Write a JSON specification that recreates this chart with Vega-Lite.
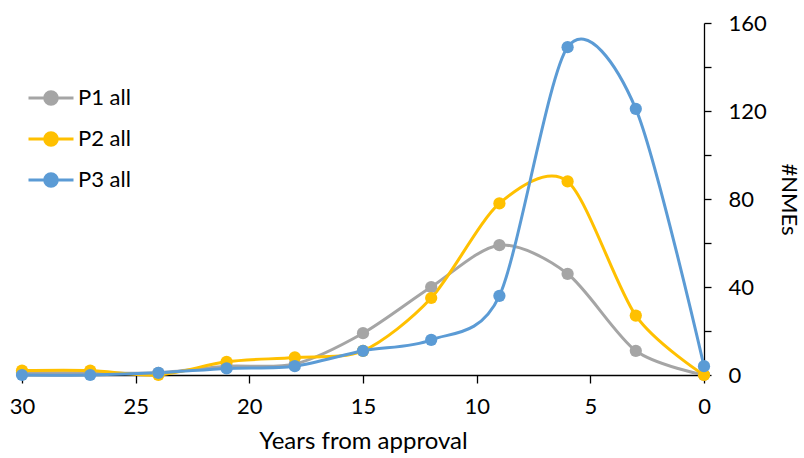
{
  "$schema": "https://vega.github.io/schema/vega-lite/v6.json",
  "autosize": "none",
  "width": 682,
  "height": 352,
  "padding": {"left": 22, "top": 23, "right": 100, "bottom": 83},
  "background": "white",
  "config": {
    "view": {"stroke": null},
    "font": "Lato",
    "axis": {"grid": false, "domainColor": "#000000", "tickColor": "#000000", "labelColor": "#000000", "titleColor": "#000000", "labelFont": "Lato", "titleFont": "Lato", "labelFontSize": 22, "titleFontSize": 24, "titleFontWeight": "normal", "domainWidth": 1.3, "tickWidth": 1.3}
  },
  "data": {
    "values": [
      {"years": 30, "nmes": 1, "series": "P1 all"},
      {"years": 27, "nmes": 1, "series": "P1 all"},
      {"years": 24, "nmes": 1, "series": "P1 all"},
      {"years": 21, "nmes": 4, "series": "P1 all"},
      {"years": 18, "nmes": 5, "series": "P1 all"},
      {"years": 15, "nmes": 19, "series": "P1 all"},
      {"years": 12, "nmes": 40, "series": "P1 all"},
      {"years": 9, "nmes": 59, "series": "P1 all"},
      {"years": 6, "nmes": 46, "series": "P1 all"},
      {"years": 3, "nmes": 11, "series": "P1 all"},
      {"years": 0, "nmes": 0, "series": "P1 all"},
      {"years": 30, "nmes": 2, "series": "P2 all"},
      {"years": 27, "nmes": 2, "series": "P2 all"},
      {"years": 24, "nmes": 0, "series": "P2 all"},
      {"years": 21, "nmes": 6, "series": "P2 all"},
      {"years": 18, "nmes": 8, "series": "P2 all"},
      {"years": 15, "nmes": 11, "series": "P2 all"},
      {"years": 12, "nmes": 35, "series": "P2 all"},
      {"years": 9, "nmes": 78, "series": "P2 all"},
      {"years": 6, "nmes": 88, "series": "P2 all"},
      {"years": 3, "nmes": 27, "series": "P2 all"},
      {"years": 0, "nmes": 0, "series": "P2 all"},
      {"years": 30, "nmes": 0, "series": "P3 all"},
      {"years": 27, "nmes": 0, "series": "P3 all"},
      {"years": 24, "nmes": 1, "series": "P3 all"},
      {"years": 21, "nmes": 3, "series": "P3 all"},
      {"years": 18, "nmes": 4, "series": "P3 all"},
      {"years": 15, "nmes": 11, "series": "P3 all"},
      {"years": 12, "nmes": 16, "series": "P3 all"},
      {"years": 9, "nmes": 36, "series": "P3 all"},
      {"years": 6, "nmes": 149, "series": "P3 all"},
      {"years": 3, "nmes": 121, "series": "P3 all"},
      {"years": 0, "nmes": 4, "series": "P3 all"}
    ]
  },
  "mark": {"type": "line", "interpolate": "cardinal", "tension": 0.15, "strokeWidth": 3, "clip": false, "point": {"filled": true, "size": 150, "opacity": 1}},
  "encoding": {
    "x": {
      "field": "years", "type": "quantitative",
      "scale": {"domain": [0, 30], "reverse": true, "nice": false, "zero": false},
      "axis": {"values": [0, 5, 10, 15, 20, 25, 30], "tickSize": 8, "labelPadding": 13, "title": "Years from approval", "titlePadding": 12, "labelFlush": false}
    },
    "y": {
      "field": "nmes", "type": "quantitative",
      "scale": {"domain": [0, 160], "nice": false},
      "axis": {"orient": "right", "values": [0, 20, 40, 60, 80, 100, 120, 140, 160], "labelExpr": "datum.value % 40 == 0 ? datum.label : ''", "tickSize": 7, "labelPadding": 17, "title": "#NMEs", "titleFontSize": 22, "titlePadding": 10, "labelFlush": false}
    },
    "color": {
      "field": "series", "type": "nominal",
      "scale": {"domain": ["P1 all", "P2 all", "P3 all"], "range": ["#A5A5A5", "#FFC000", "#5B9BD5"]},
      "legend": {
        "title": null, "orient": "none", "legendX": 5, "legendY": 51,
        "symbolType": "M-1,0H1M0.28,0A0.28,0.28 0 1,1 -0.28,0A0.28,0.28 0 1,1 0.28,0",
        "symbolSize": 2025, "symbolStrokeWidth": 3, "symbolOpacity": 1,
        "labelFontSize": 22, "labelFont": "Lato", "labelColor": "#000000", "labelOffset": 3,
        "rowPadding": 4
      }
    }
  }
}
